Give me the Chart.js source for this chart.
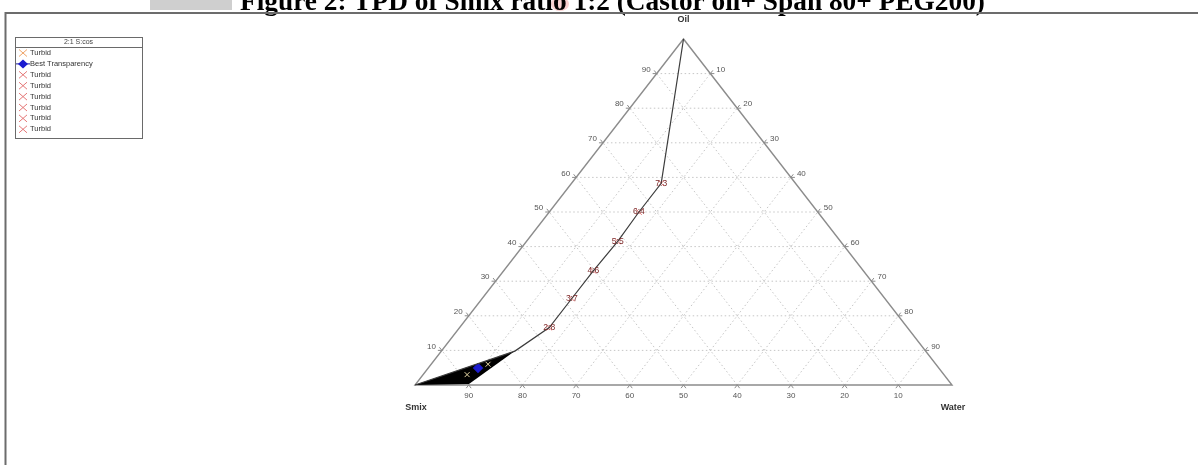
<!DOCTYPE html>
<html>
<head>
<meta charset="utf-8">
<script src="https://cdn.jsdelivr.net/npm/chart.js@4.4.0/dist/chart.umd.min.js"></script>
<style>
  html, body { margin: 0; padding: 0; background: #fff; }
  #wrap { position: relative; width: 1198px; height: 465px; }
</style>
</head>
<body>
<div id="wrap"><canvas id="tpd"></canvas></div>
<script>
// ---- text ----
const titleText = 'Figure 2: TPD of Smix ratio 1:2 (Castor oil+ Span 80+ PEG200)';
const vertexNames = ['Oil', 'Smix', 'Water'];
const tickValues = [10, 20, 30, 40, 50, 60, 70, 80, 90];
const legendTitle = '2:1 S:cos';
const legendNames = ['Turbid', 'Best Transparency', 'Turbid', 'Turbid', 'Turbid', 'Turbid', 'Turbid', 'Turbid'];

// ---- dilution end points (oil : Smix), composition in % ----
const ratioLabels = ['7:3', '6:4', '5:5', '4:6', '3:7', '2:8'];
const ratioOil    = [58.3, 50.0, 41.5, 33.0, 25.0, 16.6];
const ratioSmix   = [25.0, 33.3, 41.5, 50.3, 58.3, 66.7];
const ratioWater  = [16.7, 16.7, 17.0, 16.7, 16.7, 16.7];

// ---- microemulsion region (oil %, water %) ----
const regionOil   = [0, 9.8, 0.3];
const regionWater = [0, 13.7, 9.9];

// ---- best transparency formulation ----
const bestOil   = [4.9];
const bestWater = [9.3];

// ---- turbid points inside the region ----
const turbidOil   = [3.0, 6.0];
const turbidWater = [8.2, 10.6];

// ternary (oil, water) -> cartesian data units; Smix is the remainder
function tern(oil, water) { return { x: water + oil / 2, y: oil }; }

const boundaryOil   = [100].concat(ratioOil, [regionOil[1], 0]);
const boundaryWater = [0].concat(ratioWater, [regionWater[1], 0]);

const boundaryData = boundaryOil.map((o, i) => tern(o, boundaryWater[i]));
const ratioData    = ratioOil.map((o, i) => tern(o, ratioWater[i]));
const bestData     = bestOil.map((o, i) => tern(o, bestWater[i]));
const turbidData   = turbidOil.map((o, i) => tern(o, turbidWater[i]));

const ternaryPlugin = {
  id: 'ternaryPlot',
  beforeDraw(chart) {
    const ctx = chart.ctx;
    ctx.save();
    ctx.fillStyle = '#ffffff';
    ctx.fillRect(0, 0, chart.width, chart.height);

    // page remnants above the frame
    ctx.fillStyle = '#cfcfcf';
    ctx.fillRect(150, 0, 82, 10);
    ctx.fillStyle = 'rgba(240,150,150,0.45)';
    ctx.beginPath(); ctx.ellipse(560, 4, 9, 7, 0, 0, Math.PI * 2); ctx.fill();

    // title
    ctx.fillStyle = '#000';
    ctx.textBaseline = 'alphabetic';
    ctx.textAlign = 'left';
    let size = 20;
    ctx.font = 'bold ' + size + 'px "Liberation Serif"';
    size = size * 745 / ctx.measureText(titleText).width;
    ctx.font = 'bold ' + size.toFixed(2) + 'px "Liberation Serif"';
    ctx.fillText(titleText, 240, 10);

    // frame
    ctx.strokeStyle = '#6c6c6c';
    ctx.lineWidth = 2;
    ctx.beginPath();
    ctx.moveTo(5.5, chart.height);
    ctx.lineTo(5.5, 13);
    ctx.lineTo(chart.width, 13);
    ctx.stroke();
    ctx.restore();
  },
  beforeDatasetsDraw(chart) {
    const ctx = chart.ctx;
    const xs = chart.scales.x, ys = chart.scales.y;
    const P = (o, w) => { const t = tern(o, w); return [xs.getPixelForValue(t.x), ys.getPixelForValue(t.y)]; };
    const line = (a, b) => { ctx.beginPath(); ctx.moveTo(a[0], a[1]); ctx.lineTo(b[0], b[1]); ctx.stroke(); };
    ctx.save();

    // dotted grid
    ctx.strokeStyle = '#c6c6c6';
    ctx.lineWidth = 1;
    ctx.setLineDash([1.5, 2.5]);
    tickValues.forEach(k => {
      line(P(k, 0), P(k, 100 - k));
      line(P(0, k), P(100 - k, k));
      line(P(0, 100 - k), P(100 - k, 0));
    });
    ctx.setLineDash([]);

    // triangle
    const top = P(100, 0), left = P(0, 0), right = P(0, 100);
    ctx.strokeStyle = '#8c8c8c';
    ctx.lineWidth = 1.4;
    ctx.beginPath();
    ctx.moveTo(top[0], top[1]); ctx.lineTo(left[0], left[1]); ctx.lineTo(right[0], right[1]); ctx.closePath();
    ctx.stroke();

    // ticks: grid lines continued a few pixels past each side
    ctx.strokeStyle = '#8c8c8c';
    ctx.lineWidth = 1;
    const ext = (a, b, len) => {
      const dx = b[0] - a[0], dy = b[1] - a[1], d = Math.hypot(dx, dy);
      line(b, [b[0] + dx / d * len, b[1] + dy / d * len]);
    };
    tickValues.forEach(k => {
      ext(P(k, 100 - k), P(k, 0), 4);       // left side, oil line
      ext(P(100 - k, k), P(0, k), 4);       // bottom, water line
      ext(P(k, 0), P(k, 100 - k), 4);       // right side, oil line
      ext(P(0, 100 - k), P(100 - k, 0), 4); // left side, smix line
      ext(P(100 - k, 0), P(0, 100 - k), 4); // bottom, smix line
      ext(P(0, k), P(100 - k, k), 4);       // right side, water line
    });

    // tick labels
    ctx.fillStyle = '#555';
    ctx.font = '8px Arial, "Liberation Sans"';
    ctx.textBaseline = 'middle';
    tickValues.forEach(k => {
      let p = P(k, 0);
      ctx.textAlign = 'right';
      ctx.fillText(String(k), p[0] - 6, p[1] - 4);
      p = P(100 - k, k);
      ctx.textAlign = 'left';
      ctx.fillText(String(k), p[0] + 6, p[1] - 4);
      p = P(0, k);
      ctx.textAlign = 'center';
      ctx.fillText(String(100 - k), p[0], p[1] + 11);
    });

    // vertex names
    ctx.fillStyle = '#333';
    ctx.font = 'bold 9px Arial, "Liberation Sans"';
    ctx.textAlign = 'center';
    ctx.fillText(vertexNames[0], top[0], top[1] - 19);
    ctx.fillText(vertexNames[1], left[0] + 1, left[1] + 23);
    ctx.fillText(vertexNames[2], right[0] + 1, right[1] + 23);

    // microemulsion region
    ctx.fillStyle = '#000';
    ctx.beginPath();
    regionOil.forEach((o, i) => {
      const p = P(o, regionWater[i]);
      if (i === 0) ctx.moveTo(p[0], p[1]); else ctx.lineTo(p[0], p[1]);
    });
    ctx.closePath();
    ctx.fill();
    ctx.restore();
  },
  afterDatasetsDraw(chart) {
    const ctx = chart.ctx;
    const xs = chart.scales.x, ys = chart.scales.y;
    ctx.save();

    // ratio labels on their points
    ctx.fillStyle = '#7d2b2b';
    ctx.font = '8.5px Arial, "Liberation Sans"';
    ctx.textAlign = 'center';
    ctx.textBaseline = 'middle';
    ratioData.forEach((d, i) => {
      ctx.fillText(ratioLabels[i], xs.getPixelForValue(d.x), ys.getPixelForValue(d.y));
    });

    // legend box
    const bx = 15, by = 37, bw = 127, bh = 101;
    ctx.fillStyle = '#fff';
    ctx.fillRect(bx, by, bw, bh);
    ctx.strokeStyle = '#6a6a6a';
    ctx.lineWidth = 1;
    ctx.strokeRect(bx + 0.5, by + 0.5, bw, bh);
    ctx.beginPath();
    ctx.moveTo(bx, by + 10.5); ctx.lineTo(bx + bw, by + 10.5);
    ctx.stroke();
    ctx.fillStyle = '#444';
    ctx.font = '7px Arial, "Liberation Sans"';
    ctx.textAlign = 'center';
    ctx.textBaseline = 'middle';
    ctx.fillText(legendTitle, bx + bw / 2, by + 5.5);
    ctx.textAlign = 'left';
    ctx.font = '7.5px Arial, "Liberation Sans"';
    legendNames.forEach((name, i) => {
      const y = by + 16 + i * 10.9;
      const mx = 23;
      if (name === 'Best Transparency') {
        ctx.strokeStyle = '#1a1a9a';
        ctx.beginPath(); ctx.moveTo(16, y); ctx.lineTo(30, y); ctx.stroke();
        ctx.fillStyle = '#1b1bd0';
        ctx.beginPath();
        ctx.moveTo(mx, y - 4.5); ctx.lineTo(mx + 5, y); ctx.lineTo(mx, y + 4.5); ctx.lineTo(mx - 5, y);
        ctx.closePath(); ctx.fill();
      } else {
        ctx.strokeStyle = i === 0 ? '#efa56a' : '#e57878';
        ctx.lineWidth = 1;
        ctx.beginPath();
        ctx.moveTo(mx - 4, y - 3.5); ctx.lineTo(mx + 4, y + 3.5);
        ctx.moveTo(mx + 4, y - 3.5); ctx.lineTo(mx - 4, y + 3.5);
        ctx.stroke();
      }
      ctx.fillStyle = '#333';
      ctx.fillText(name, 30, y);
    });
    ctx.restore();
  }
};

new Chart(document.getElementById('tpd'), {
  type: 'scatter',
  data: {
    datasets: [
      {
        label: 'boundary',
        data: boundaryData,
        showLine: true,
        borderColor: '#3c3c3c',
        borderWidth: 1.2,
        pointRadius: 0,
        clip: false
      },
      {
        label: legendNames[0],
        data: turbidData,
        pointStyle: 'crossRot',
        pointRadius: 3.5,
        borderColor: '#e8d9a8',
        borderWidth: 1,
        clip: false
      },
      {
        label: legendNames[1],
        data: bestData,
        pointStyle: 'rectRot',
        pointRadius: 5,
        backgroundColor: '#1b1bd0',
        borderColor: '#15159a',
        borderWidth: 1,
        clip: false
      },
      {
        label: legendNames[2],
        data: ratioData,
        pointStyle: 'crossRot',
        pointRadius: 4,
        borderColor: '#e57878',
        borderWidth: 1,
        clip: false
      }
    ]
  },
  options: {
    responsive: true,
    maintainAspectRatio: false,
    animation: false,
    layout: { padding: { left: 415, right: 246, top: 39, bottom: 80 } },
    scales: {
      x: { type: 'linear', min: 0, max: 100, display: false },
      y: { type: 'linear', min: 0, max: 100, display: false }
    },
    plugins: { legend: { display: false }, tooltip: { enabled: false } }
  },
  plugins: [ternaryPlugin]
});
</script>
</body>
</html>
